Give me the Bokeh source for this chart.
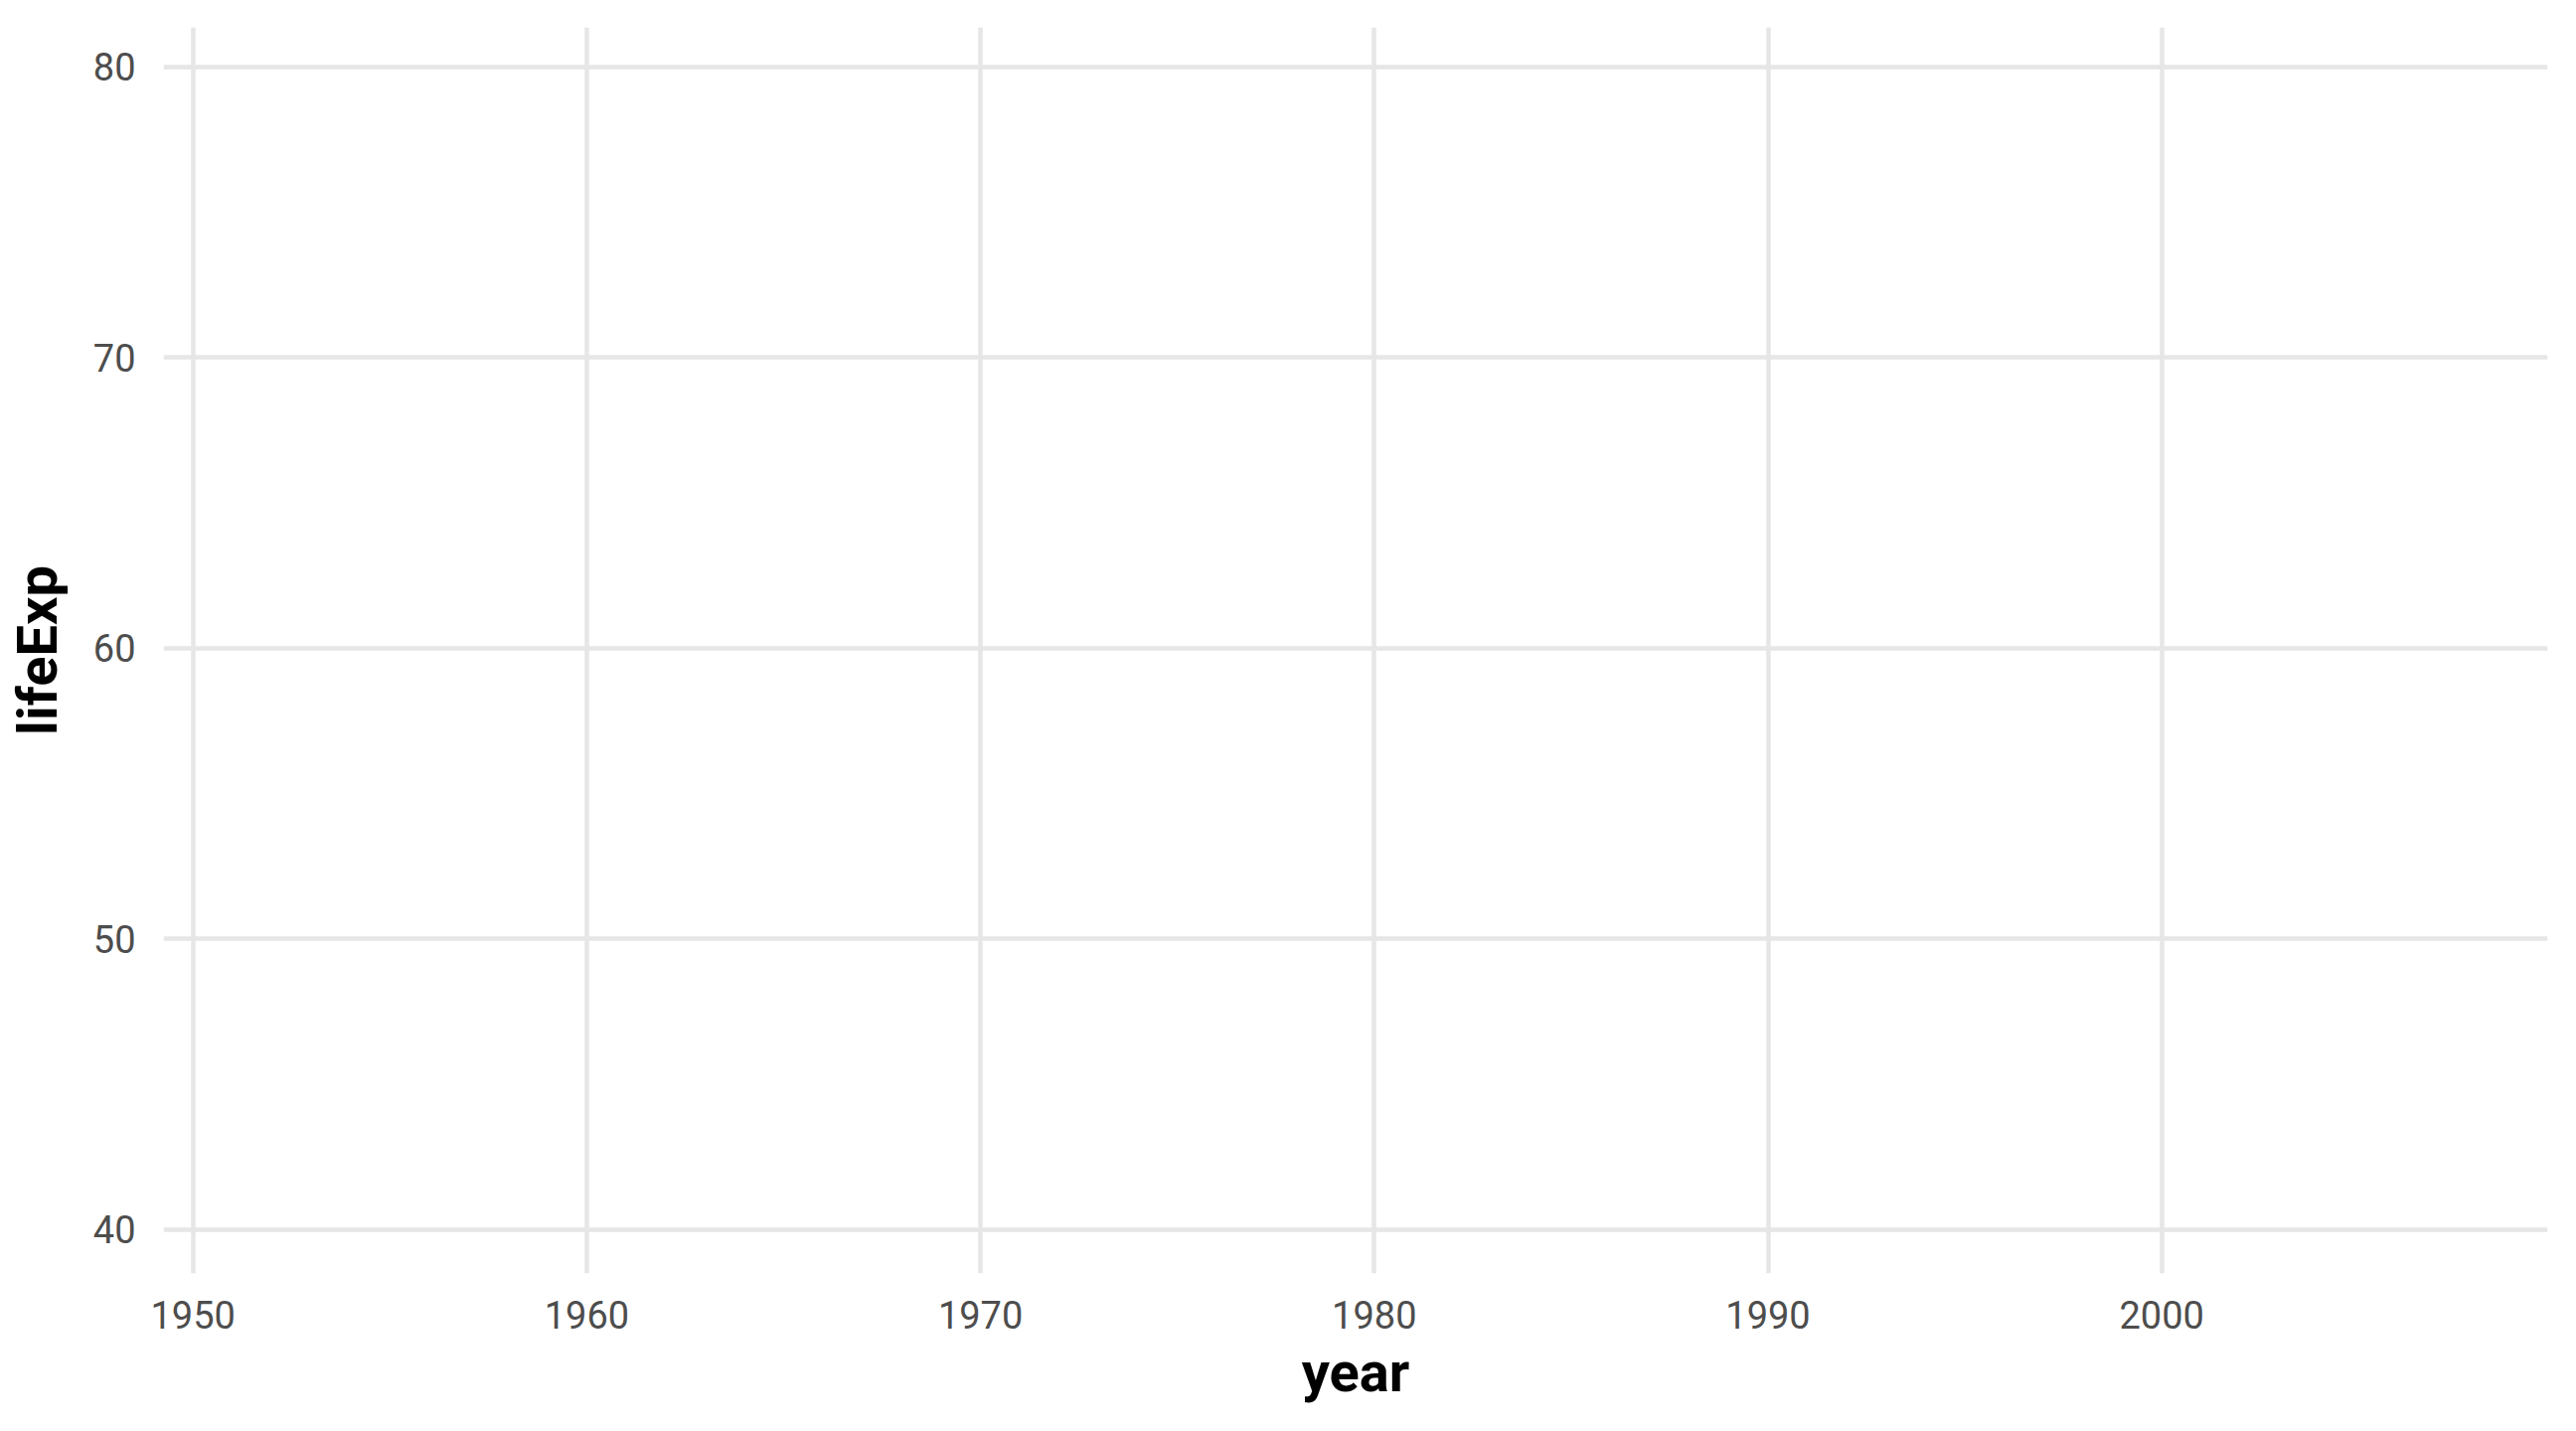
from bokeh.plotting import figure
from bokeh.models import FixedTicker, Range1d, ColumnDataSource
from bokeh.embed import file_html
from bokeh.resources import INLINE

# Data (the reference chart contains no plotted marks)
years = []
life_exp = []

x_ticks = [1950, 1960, 1970, 1980, 1990, 2000]
y_ticks = [40, 50, 60, 70, 80]
x_limits = [1949.25, 2009.8]
y_limits = [38.48, 81.36]
x_title = "year"
y_title = "lifeExp"

W, H = 2576, 1424
p = figure(width=W, height=H, output_backend="svg", toolbar_location=None,
           x_range=Range1d(*x_limits), y_range=Range1d(*y_limits),
           min_border_left=164, min_border_right=13, min_border_top=27,
           min_border_bottom=143)

src = ColumnDataSource(dict(year=years, lifeExp=life_exp))
p.line("year", "lifeExp", source=src, line_color="#333333")

p.background_fill_color = "white"
p.border_fill_color = "white"
p.outline_line_color = None

FONT = "Roboto"
for ax, ticks in ((p.xaxis[0], x_ticks), (p.yaxis[0], y_ticks)):
    ax.ticker = FixedTicker(ticks=ticks)
    ax.axis_line_color = None
    ax.major_tick_line_color = None
    ax.minor_tick_line_color = None
    ax.major_tick_in = 0
    ax.major_tick_out = 0
    ax.minor_tick_in = 0
    ax.minor_tick_out = 0
    ax.major_label_text_font = FONT
    ax.major_label_text_font_size = "38px"
    ax.major_label_text_color = "#4d4d4d"
    ax.axis_label_text_font = FONT
    ax.axis_label_text_font_style = "bold"
    ax.axis_label_text_font_size = "56px"
    ax.axis_label_text_color = "#000000"

p.xaxis.axis_label = x_title
p.yaxis.axis_label = y_title
p.xaxis.major_label_standoff = 27
p.yaxis.major_label_standoff = 28
p.xaxis.axis_label_standoff = 8
p.yaxis.axis_label_standoff = 20

for g in (p.xgrid[0], p.ygrid[0]):
    g.grid_line_color = "#e6e6e6"
    g.grid_line_width = 4.5
    g.minor_grid_line_color = None

open("out.html", "w").write(file_html(p, INLINE))
